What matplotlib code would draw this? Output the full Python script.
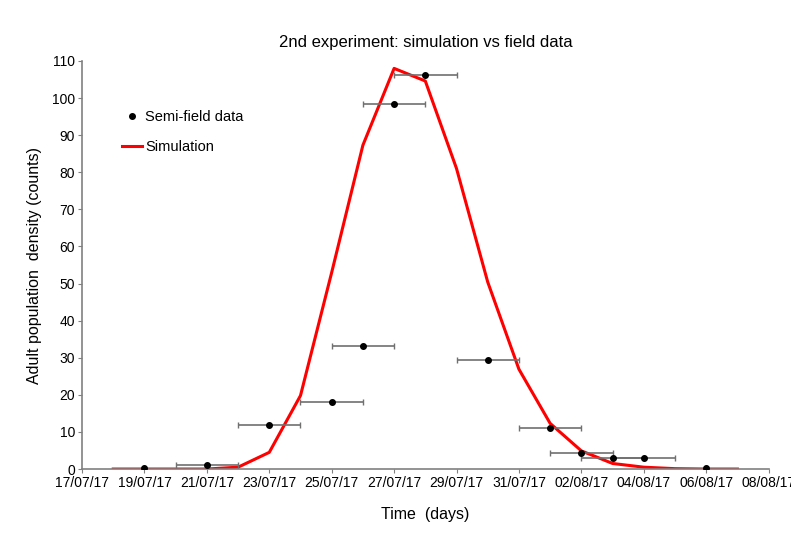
import datetime as dt
import matplotlib
matplotlib.use('Agg')
import matplotlib.pyplot as plt
import matplotlib.dates as mdates
from matplotlib.lines import Line2D

plt.rcParams['font.family'] = ['Liberation Sans', 'DejaVu Sans']

start = dt.date(2017, 7, 18)
sim_values = [0, 0, 0, 0, 0.5, 4.5, 19.8, 53, 87.3, 108, 104.6, 81, 50.4,
              26.9, 12.3, 4.9, 1.5, 0.5, 0.1, 0, 0]
sim_dates = [start + dt.timedelta(days=i) for i in range(len(sim_values))]

field_days = ['2017-07-19', '2017-07-21', '2017-07-23', '2017-07-25', '2017-07-26',
              '2017-07-27', '2017-07-28', '2017-07-30', '2017-08-01', '2017-08-02',
              '2017-08-03', '2017-08-04', '2017-08-06']
field_values = [0.3, 1.2, 11.8, 18.2, 33.1, 98.3, 106.3, 29.4, 11.0, 4.2, 3.0, 3.0, 0.2]
field_err_days = [0, 1, 1, 1, 1, 1, 1, 1, 1, 1, 1, 1, 0]

field_dates = [dt.datetime.strptime(d, '%Y-%m-%d').date() for d in field_days]

fig = plt.figure(figsize=(7.91, 5.33), dpi=100)
ax = fig.add_axes([0.1037, 0.12, 0.868, 0.7656])

ax.plot(sim_dates, sim_values, color='#ff0000', lw=2.2, zorder=2)
ax.errorbar(field_dates, field_values, xerr=[dt.timedelta(days=d) for d in field_err_days],
            fmt='o', color='black', ms=4, ecolor='#707070', elinewidth=1.2,
            capsize=2.5, capthick=1, zorder=3)

ax.set_xlim(dt.date(2017, 7, 17), dt.date(2017, 8, 8))
ax.set_ylim(0, 110)
ax.set_yticks(range(0, 111, 10))
ax.xaxis.set_major_locator(mdates.DayLocator(interval=2))
ax.xaxis.set_major_formatter(mdates.DateFormatter('%d/%m/%y'))

for s in ['top', 'right']:
    ax.spines[s].set_visible(False)
for s in ['left', 'bottom']:
    ax.spines[s].set_color('#808080')
    ax.spines[s].set_linewidth(1.2)
ax.tick_params(colors='#808080', labelcolor='black', labelsize=10, length=3, pad=2)

ax.set_title('2nd experiment: simulation vs field data', fontsize=12, pad=10)
ax.set_xlabel('Time  (days)', fontsize=11.5, labelpad=12)
ax.set_ylabel('Adult population  density (counts)', fontsize=11.5, labelpad=7)

handles = [Line2D([], [], marker='o', ls='none', color='black', ms=4),
           Line2D([], [], color='#ff0000', lw=2.2)]
ax.legend(handles, ['Semi-field data', 'Simulation'], loc='upper left',
          bbox_to_anchor=(0.039, 0.912), frameon=False, fontsize=10.5,
          handlelength=1.4, handletextpad=0.2, labelspacing=1.1)

fig.savefig('out.png', dpi=100)
